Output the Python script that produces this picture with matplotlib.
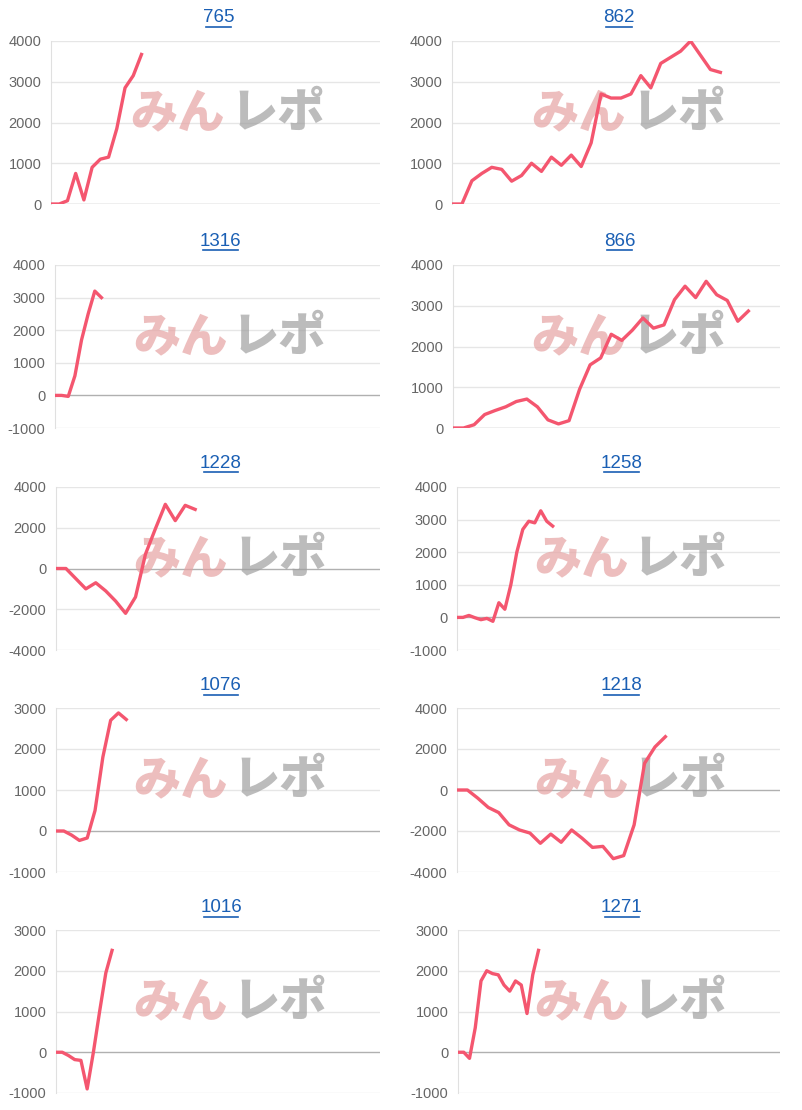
import matplotlib
matplotlib.use("Agg")
import matplotlib.pyplot as plt
import matplotlib.transforms as mtransforms

titles = ["765", "862", "1316", "866", "1228", "1258", "1076", "1218", "1016", "1271"]
v765 = [0, 0, 80, 750, 100, 900, 1100, 1150, 1850, 2850, 3150, 3670]
v862 = [0, 0, 570, 750, 900, 850, 560, 700, 1000, 800, 1150, 950, 1200, 920, 1500, 2700, 2600, 2600,
        2700, 3150, 2850, 3450, 3600, 3750, 4000, 3650, 3300, 3230]
v1316 = [0, 0, -30, 600, 1700, 2500, 3200, 3000]
v866 = [0, 0, 80, 330, 430, 520, 650, 710, 520, 200, 100, 180, 950, 1550, 1720, 2300, 2150, 2400, 2700,
        2450, 2530, 3150, 3480, 3200, 3600, 3270, 3130, 2620, 2870]
v1228 = [0, 0, -500, -1000, -700, -1100, -1600, -2200, -1400, 700, 1950, 3150, 2350, 3100, 2900]
v1258 = [0, 0, 60, -10, -70, -30, -120, 450, 250, 1000, 2000, 2700, 2950, 2900, 3270, 2950, 2800]
v1076 = [0, 0, -100, -230, -170, 500, 1800, 2700, 2880, 2720]
v1218 = [0, 0, -400, -850, -1100, -1700, -1950, -2100, -2600, -2150, -2550, -1950, -2350, -2800, -2750,
         -3350, -3200, -1700, 1300, 2100, 2600]
v1016 = [0, 0, -80, -180, -200, -900, 0, 1000, 1950, 2500]
v1271 = [0, 0, -150, 600, 1750, 2000, 1930, 1900, 1650, 1500, 1750, 1650, 950, 1900, 2500]
series = [v765, v862, v1316, v866, v1228, v1258, v1076, v1218, v1016, v1271]
xmax = [40, 33, 49, 31, 32.6, 54, 41.5, 31, 52, 56]
yticks = [[0, 1000, 2000, 3000, 4000], [0, 1000, 2000, 3000, 4000],
          [-1000, 0, 1000, 2000, 3000, 4000], [0, 1000, 2000, 3000, 4000],
          [-4000, -2000, 0, 2000, 4000], [-1000, 0, 1000, 2000, 3000, 4000],
          [-1000, 0, 1000, 2000, 3000], [-4000, -2000, 0, 2000, 4000],
          [-1000, 0, 1000, 2000, 3000], [-1000, 0, 1000, 2000, 3000]]

W, H = 802, 1110
fig = plt.figure(figsize=(W/100, H/100), dpi=100)
tops = [41, 265, 487, 708, 930]
bots = [204, 428, 650, 872, 1093]
titley = [18, 241, 463, 686, 908]
lefts = [[51, 55, 56, 56, 56], [452, 453, 457, 457, 458]]
rights = [380, 780]

for i in range(10):
    r, c = divmod(i, 2)
    l = lefts[c][r]
    ax = fig.add_axes([l/W, 1-bots[r]/H, (rights[c]-l)/W, (bots[r]-tops[r])/H])
    yt = yticks[i]
    ax.set_xlim(0, xmax[i])
    ax.set_ylim(yt[0], yt[-1])
    ax.set_yticks(yt)
    ax.set_yticklabels([str(t) for t in yt], color="#666666", fontsize=10.5, family="Liberation Sans")
    ax.set_xticks([])
    ax.tick_params(axis="y", length=0, pad=7)
    for s in ["top", "right", "bottom"]:
        ax.spines[s].set_visible(False)
    ax.spines["left"].set_color("#e0e0e0")
    for t in yt:
        ax.axhline(t, color="#b0b0b0" if t == 0 else "#e6e6e6", lw=1, zorder=1)
    skew = mtransforms.Affine2D().skew_deg(15, 0)
    for txt, fx, col in [("みん", 0.385, "#e6a3a3"), ("レポ", 0.69, "#a0a0a0")]:
        ax.text(fx, 0.56, txt, transform=ax.transAxes, fontsize=34, fontweight="black",
                family=["Noto Sans CJK JP"], color=col, alpha=0.7, ha="center", va="center", zorder=2)
    ax.plot(range(len(series[i])), series[i], color="#f4566f", lw=2.4, zorder=3)
    cx = (l + rights[c]) / 2 + 3
    fig.text(cx/W, 1-titley[r]/H, titles[i], ha="center", va="center", fontsize=13.5,
             color="#1a5fb4", family="Liberation Sans")
    tw = len(titles[i]) * 8.6
    fig.add_artist(plt.Line2D([(cx - tw/2)/W, (cx + tw/2)/W], [1-(titley[r]+9)/H]*2,
                              color="#1a5fb4", lw=1.2))

fig.savefig("out.png", dpi=100)
